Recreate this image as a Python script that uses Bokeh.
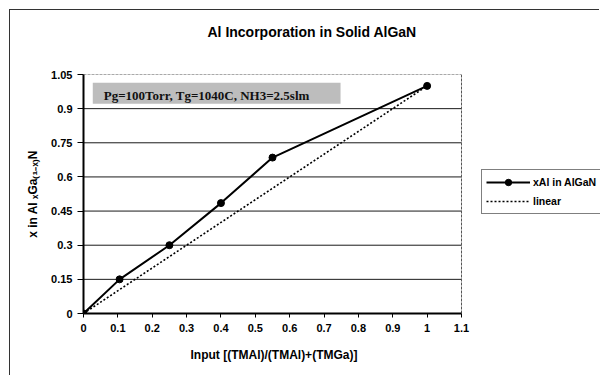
from bokeh.plotting import figure
from bokeh.models import (FixedTicker, Legend, LegendItem, Label, BoxAnnotation, Title)
from bokeh.embed import file_html
from bokeh.resources import INLINE

# ---- data ----
input_frac = [0, 0.105, 0.25, 0.4, 0.55, 1.0]
xal_in_algan = [0, 0.15, 0.30, 0.485, 0.685, 1.0]
linear = [0, 0.105, 0.25, 0.4, 0.55, 1.0]

x_ticks = [0, 0.1, 0.2, 0.3, 0.4, 0.5, 0.6, 0.7, 0.8, 0.9, 1.0, 1.1]
x_tick_labels = ["0", "0.1", "0.2", "0.3", "0.4", "0.5", "0.6", "0.7", "0.8", "0.9", "1", "1.1"]
y_ticks = [0, 0.15, 0.3, 0.45, 0.6, 0.75, 0.9, 1.05]
y_tick_labels = ["0", "0.15", "0.3", "0.45", "0.6", "0.75", "0.9", "1.05"]

title_text = "Al Incorporation in Solid AlGaN"
note_text = "Pg=100Torr, Tg=1040C, NH3=2.5slm"
x_label = "Input [(TMAl)/(TMAl)+(TMGa)]"
y_label = "x in Al \u2093Ga\u208d\u2081\u208b\u2093\u208eN"
series_names = ["xAl in AlGaN", "linear"]

FONT = "Liberation Sans"

X_MAX, Y_MAX = x_ticks[-1], y_ticks[-1]
PLOT_W, LEFT = 590, 73
AXIS_PX = 378                      # pixels covered by the 0..1.1 axis
FRAME_W = PLOT_W - LEFT
x_view_end = X_MAX * FRAME_W / AXIS_PX   # frame also hosts the legend area

p = figure(width=PLOT_W, height=366, output_backend="svg", toolbar_location=None,
           x_range=(0, x_view_end), y_range=(0, Y_MAX),
           min_border_left=LEFT, min_border_right=0,
           min_border_top=64, min_border_bottom=62,
           background_fill_color="white", border_fill_color="white")
p.styles = {"margin-left": "9px", "margin-top": "9px",
            "border-top": "1px solid #333", "border-left": "1px solid #333"}
p.outline_line_color = None

# spacer between frame and title, then the title itself
p.add_layout(Title(text=" ", text_font_size="1px", standoff=24), "above")
p.title.text = title_text
p.title.align = "left"
p.title.offset = 124
p.title.standoff = 16
p.title.text_font = FONT
p.title.text_font_size = "14px"
p.title.text_font_style = "bold"
p.title.text_color = "black"

# grid lines limited to the 0..1.1 plot area
p.xgrid.grid_line_color = None
p.ygrid.grid_line_color = None
inner = [t for t in y_ticks if 0 < t < Y_MAX]
p.segment(x0=[0] * len(inner), x1=[X_MAX] * len(inner), y0=inner, y1=inner,
          line_color="#1a1a1a", line_width=1)
# plot-area border (top and right), dotted grey
p.segment(x0=[0, X_MAX], x1=[X_MAX, X_MAX], y0=[Y_MAX, 0], y1=[Y_MAX, Y_MAX],
          line_color="#555555", line_width=1, line_dash="3 1")

# axes
for ax in (p.xaxis[0], p.yaxis[0]):
    ax.axis_line_color = "black"
    ax.axis_line_width = 2
    ax.major_tick_line_color = "black"
    ax.major_tick_line_width = 1
    ax.minor_tick_line_color = None
    ax.major_label_text_font = FONT
    ax.major_label_text_font_style = "bold"
    ax.major_label_text_font_size = "11px"
    ax.major_label_text_color = "black"
    ax.axis_label_text_font = FONT
    ax.axis_label_text_font_style = "bold"
    ax.axis_label_text_font_size = "12px"
    ax.axis_label_text_color = "black"

p.xaxis.bounds = (0, X_MAX)
p.xaxis.ticker = FixedTicker(ticks=x_ticks)
p.xaxis.major_label_overrides = {t: l for t, l in zip(x_ticks, x_tick_labels)}
p.yaxis.ticker = FixedTicker(ticks=y_ticks)
p.yaxis.major_label_overrides = {t: l for t, l in zip(y_ticks, y_tick_labels)}
p.xaxis.major_tick_out = 4
p.xaxis.major_tick_in = 0
p.yaxis.major_tick_out = 6
p.yaxis.major_tick_in = 0
p.xaxis.major_label_standoff = 6
p.yaxis.major_label_standoff = 5
p.yaxis.axis_label = y_label
p.yaxis.axis_label_standoff = 8

# x-axis title, centred under the 0..1.1 axis
p.add_layout(Title(text=x_label, align="left", offset=107, standoff=26,
                   vertical_align="top", text_font=FONT, text_font_size="12px",
                   text_font_style="bold", text_color="black"), "below")

# annotation box
box = BoxAnnotation(left=0.027, right=0.748, bottom=0.922, top=1.0135,
                    fill_color="#bdbdbd", fill_alpha=1.0, line_color=None, level="underlay")
p.add_layout(box)
p.add_layout(Label(x=0.059, y=0.957, text=note_text, text_font="Liberation Serif",
                   text_font_size="13px", text_font_style="bold", text_color="#111111",
                   text_baseline="middle", text_align="left"))

# series
r_line = p.line(input_frac, xal_in_algan, line_color="black", line_width=2)
r_pts = p.scatter(input_frac, xal_in_algan, marker="circle", size=7,
                  fill_color="black", line_color="black")
r_lin = p.line(input_frac, linear, line_color="black", line_width=1.6, line_dash="2 2")

legend = Legend(items=[LegendItem(label=series_names[0], renderers=[r_line, r_pts]),
                       LegendItem(label=series_names[1], renderers=[r_lin])],
                location=(398, 99), orientation="vertical",
                border_line_color="black", border_line_width=1,
                background_fill_color="white", background_fill_alpha=1,
                label_text_font=FONT, label_text_font_style="bold",
                label_text_font_size="10.5px", label_text_color="black",
                glyph_width=44, glyph_height=16, label_standoff=3,
                padding=4, spacing=3, margin=0, label_height=16)
p.add_layout(legend, "center")

open("out.html", "w").write(file_html(p, INLINE))
